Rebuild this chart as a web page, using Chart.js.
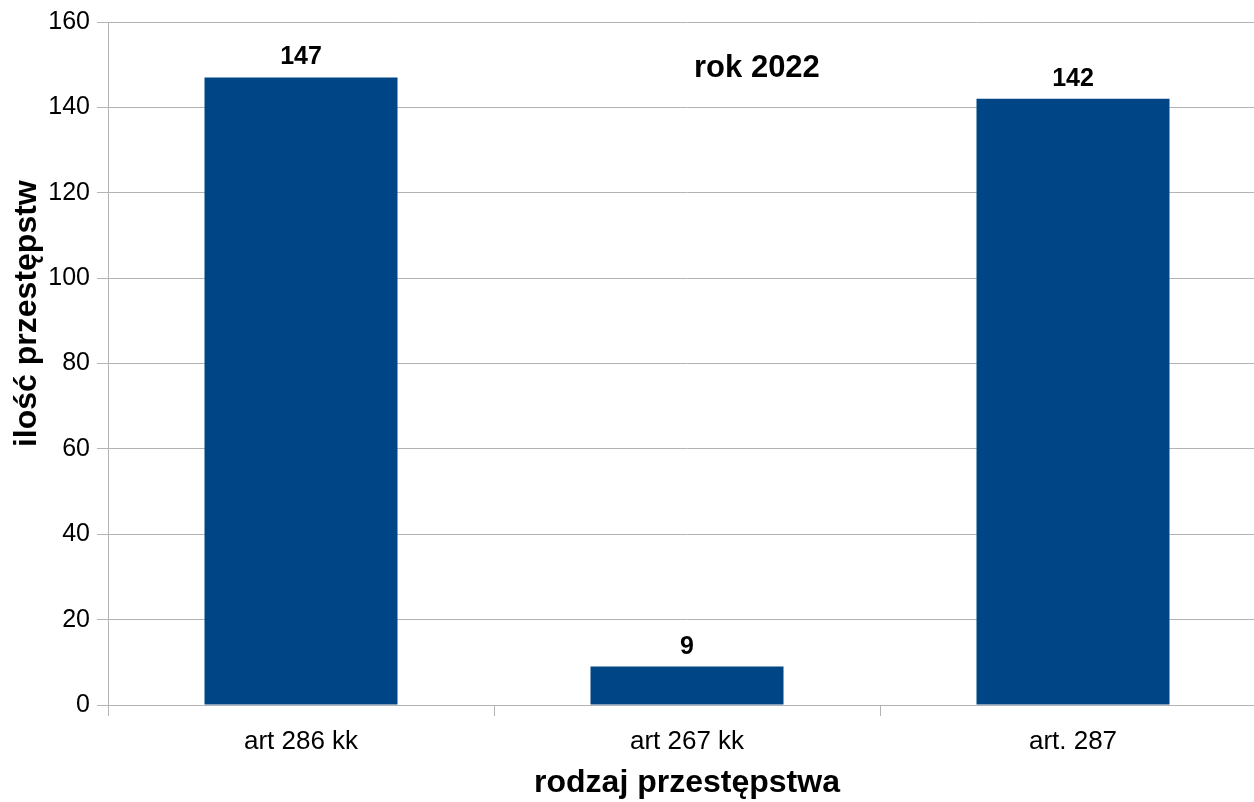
<!DOCTYPE html>
<html>
<head>
<meta charset="utf-8">
<script src="https://cdn.jsdelivr.net/npm/chart.js@4.4.1/dist/chart.umd.min.js"></script>
<style>
  html, body { margin: 0; padding: 0; background: #fff; overflow: hidden; }
  /* the plot runs a little past the right edge of the picture, as in the original */
  #wrap { width: 1266px; height: 802px; position: relative; }
</style>
</head>
<body>
<div id="wrap"><canvas id="barChart"></canvas></div>
<script>
// data
const categories = ['art 286 kk', 'art 267 kk', 'art. 287'];
const counts = [147, 9, 142];
const yTicks = [0, 20, 40, 60, 80, 100, 120, 140, 160];
const chartTitle = 'rok 2022';
const xTitle = 'rodzaj przestępstwa';
const yTitle = 'ilość przestępstw';

const FONT = "'Liberation Sans', Arial, sans-serif";
const GRID = '#b3b3b3';

// value labels above the bars
const valueLabels = {
  id: 'valueLabels',
  afterDatasetsDraw(chart) {
    const ctx = chart.ctx;
    const meta = chart.getDatasetMeta(0);
    ctx.save();
    ctx.font = 'bold 25px ' + FONT;
    ctx.fillStyle = '#000';
    ctx.textAlign = 'center';
    ctx.textBaseline = 'alphabetic';
    meta.data.forEach((bar, i) => {
      ctx.fillText(String(counts[i]), bar.x, bar.y - 13);
    });
    ctx.restore();
  }
};

// "rok 2022" sits right of centre inside the plot, y title sits above centre
const extraText = {
  id: 'extraText',
  afterDraw(chart) {
    const a = chart.chartArea;
    const ctx = chart.ctx;
    ctx.save();
    ctx.fillStyle = '#000';
    ctx.textAlign = 'center';
    ctx.textBaseline = 'alphabetic';
    ctx.font = 'bold 31px ' + FONT;
    ctx.fillText(chartTitle, a.left + (a.right - a.left) * 0.5604, a.top + 55);

    ctx.font = 'bold 32px ' + FONT;
    ctx.textBaseline = 'middle';
    ctx.translate(27, a.top + (a.bottom - a.top) * 0.427);
    ctx.rotate(-Math.PI / 2);
    ctx.fillText(yTitle, 0, 0);
    ctx.restore();
  }
};

new Chart('barChart', {
  type: 'bar',
  data: {
    labels: categories,
    datasets: [{
      data: counts,
      backgroundColor: '#004586',
      borderWidth: 0,
      categoryPercentage: 1,
      barPercentage: 0.5
    }]
  },
  options: {
    responsive: true,
    maintainAspectRatio: false,
    devicePixelRatio: 1,
    animation: false,
    layout: { padding: { top: 21, right: 0, bottom: 0, left: 0 } },
    plugins: {
      legend: { display: false },
      tooltip: { enabled: false },
      title: { display: false }
    },
    scales: {
      x: {
        offset: true,
        grid: {
          offset: true,
          drawOnChartArea: false,
          drawTicks: true,
          tickLength: 11,
          color: GRID,
          lineWidth: 1
        },
        border: { display: true, color: GRID, width: 1 },
        ticks: {
          color: '#000',
          font: { family: FONT, size: 26 },
          padding: 10,
          maxRotation: 0
        },
        title: {
          display: true,
          text: xTitle,
          color: '#000',
          font: { family: FONT, size: 32, weight: 'bold' },
          padding: { top: 0, bottom: 0 }
        },
        afterFit(scale) { scale.height = 97; }
      },
      y: {
        min: 0,
        max: 160,
        afterBuildTicks(scale) { scale.ticks = yTicks.map(v => ({ value: v })); },
        grid: {
          color: GRID,
          lineWidth: 1,
          drawTicks: true,
          tickLength: 11
        },
        border: { display: true, color: GRID, width: 1 },
        ticks: {
          color: '#000',
          font: { family: FONT, size: 25 },
          padding: 7
        },
        afterFit(scale) { scale.width = 108; }
      }
    }
  },
  plugins: [valueLabels, extraText]
});
</script>
</body>
</html>
